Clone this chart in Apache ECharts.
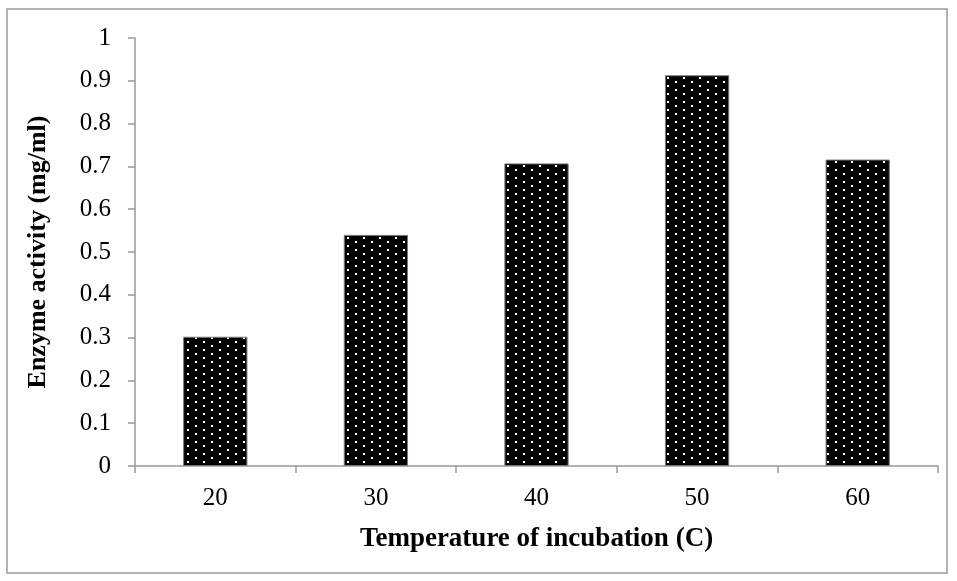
<!DOCTYPE html>
<html>
<head>
<meta charset="utf-8">
<script src="https://cdn.jsdelivr.net/npm/echarts@6/dist/echarts.min.js"></script>
<style>
  html, body { margin: 0; padding: 0; background: #fff; }
  #chart { width: 957px; height: 581px; }
</style>
</head>
<body>
<div id="chart"></div>
<script>
// data
var temperatures = ['20', '30', '40', '50', '60'];
var activity = [0.302, 0.54, 0.707, 0.913, 0.716];
var yTicks = [0, 0.1, 0.2, 0.3, 0.4, 0.5, 0.6, 0.7, 0.8, 0.9, 1];

// black fill with small white dots
function dotPattern() {
    var c = document.createElement('canvas');
    c.width = 16;
    c.height = 8;
    var ctx = c.getContext('2d');
    ctx.fillStyle = '#000';
    ctx.fillRect(0, 0, 16, 8);
    ctx.fillStyle = '#fff';
    ctx.fillRect(3, 1, 2, 2);
    ctx.fillRect(11, 5, 2, 2);
    return c;
}

var myChart = echarts.init(document.getElementById('chart'), null, { renderer: 'canvas' });

var font = '"Liberation Serif", "Times New Roman", serif';

var option = {
    animation: false,
    backgroundColor: '#fff',
    grid: { left: 135, right: 19, top: 38, bottom: 115 },
    graphic: [{
        type: 'rect',
        shape: { x: 7, y: 9, width: 940, height: 564 },
        style: { fill: 'none', stroke: '#9a9a9a', lineWidth: 1.5 },
        silent: true
    }],
    xAxis: {
        type: 'category',
        data: temperatures,
        name: 'Temperature of incubation (C)',
        nameLocation: 'middle',
        nameGap: 60,
        nameTextStyle: { fontFamily: font, fontWeight: 'bold', fontSize: 27, color: '#000' },
        axisLine: { lineStyle: { color: '#999', width: 1.5 } },
        axisTick: { show: true, length: 7, lineStyle: { color: '#999', width: 1.5 } },
        axisLabel: { fontFamily: font, fontSize: 25, color: '#000', margin: 20 },
        splitLine: { show: false }
    },
    yAxis: {
        type: 'value',
        min: 0,
        max: 1,
        interval: 0.1,
        name: 'Enzyme activity (mg/ml)',
        nameLocation: 'middle',
        nameGap: 84,
        nameTextStyle: { fontFamily: font, fontWeight: 'bold', fontSize: 26, color: '#000' },
        axisLine: { show: true, lineStyle: { color: '#999', width: 1.5 } },
        axisTick: { show: true, length: 7, lineStyle: { color: '#999', width: 1.5 } },
        axisLabel: {
            fontFamily: font, fontSize: 25, color: '#000', margin: 24,
            formatter: function (v) {
                var t = yTicks.find(function (x) { return Math.abs(x - v) < 1e-6; });
                return t === undefined ? '' : String(t);
            }
        },
        splitLine: { show: false }
    },
    series: [{
        type: 'bar',
        data: activity,
        barWidth: '40%',
        itemStyle: {
            color: { image: dotPattern(), repeat: 'repeat' },
            borderColor: '#777',
            borderWidth: 1
        }
    }]
};

myChart.setOption(option);
</script>
</body>
</html>
